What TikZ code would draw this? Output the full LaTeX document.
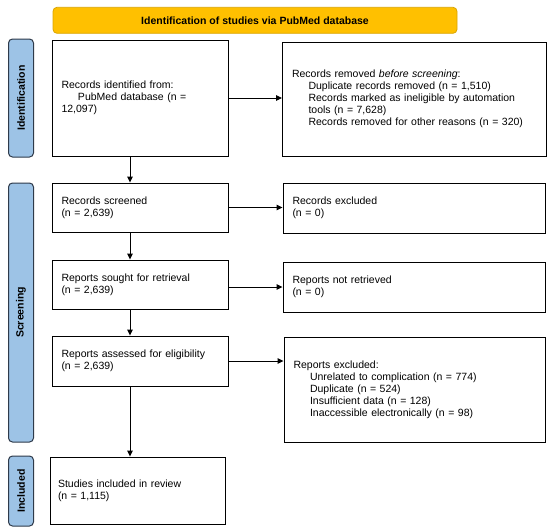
\documentclass[tikz,border=0pt]{standalone}
\usepackage{fontspec}
\setmainfont{Liberation Sans}
\usepackage{tikz}
\usetikzlibrary{arrows.meta, positioning, calc}
\definecolor{phaseblue}{HTML}{9DC3E6}
\definecolor{phaseedge}{HTML}{2E3A4A}
\definecolor{headgold}{HTML}{FFC000}
\definecolor{headedge}{HTML}{D9A400}
\newcommand{\ind}{\hspace*{16.5pt}}

\begin{document}
\begin{tikzpicture}[
    x=1pt, y=-1pt,
    record/.style={rectangle, draw, line width=0.9pt, inner xsep=9.5pt, inner ysep=0pt, align=left, font=\fontsize{10.5}{11.9}\selectfont},
    phase/.style={rectangle, rounded corners=4pt, draw=phaseedge, line width=1pt, fill=phaseblue, minimum height=25pt, inner sep=0pt, font=\fontsize{10.5}{12}\selectfont\bfseries},
    header/.style={rectangle, rounded corners=4pt, draw=headedge, line width=0.8pt, fill=headgold, minimum width=404pt, minimum height=26pt, font=\fontsize{10.5}{12}\selectfont\bfseries},
    arr/.style={-{Triangle[length=6pt, width=5.5pt]}, line width=0.9pt}
]
\useasboundingbox (0,0) rectangle (550,531);

% Header
\node[header] (head) at (255, 20.3) {Identification of studies via PubMed database};

% Phase labels
\node[phase, rotate=90, minimum width=118pt] (pid) at (21, 98) {Identification};
\node[phase, rotate=90, minimum width=259pt] (pscr) at (21, 312.5) {Screening};
\node[phase, rotate=90, minimum width=70pt] (pinc) at (21, 491) {Included};

% Identification
\node[record, text width=157pt, minimum height=116pt] (ident) at (140, 98)
    {Records identified from:\\ \ind PubMed database (n =\\ 12,097)};
\node[record, text width=245pt, minimum height=114pt] (removed) at (414.5, 99)
    {Records removed \textit{before screening}:\\
     \ind Duplicate records removed (n = 1,510)\\
     \ind Records marked as ineligible by automation\\
     \ind tools (n = 7,628)\\
     \ind Records removed for other reasons (n = 320)};

% Screening
\node[record, text width=157pt, minimum height=49pt] (screened) at (140, 207.5)
    {Records screened\\ (n = 2,639)};
\node[record, text width=243pt, minimum height=50pt] (excl) at (414, 208)
    {Records excluded\\ (n = 0)};
\node[record, text width=157pt, minimum height=49pt] (sought) at (140, 284.5)
    {Reports sought for retrieval\\ (n = 2,639)};
\node[record, text width=243pt, minimum height=50pt] (notret) at (414, 287)
    {Reports not retrieved\\ (n = 0)};
\node[record, text width=157pt, minimum height=50pt] (assessed) at (140, 361)
    {Reports assessed for eligibility\\ (n = 2,639)};
\node[record, text width=242pt, minimum height=105pt] (repexcl) at (414.5, 389.5)
    {Reports excluded:\\
     \ind Unrelated to complication (n = 774)\\
     \ind Duplicate (n = 524)\\
     \ind Insufficient data (n = 128)\\
     \ind Inaccessible electronically (n = 98)};

% Included
\node[record, inner xsep=7.5pt, text width=160pt, minimum height=67pt] (incl) at (138, 490.5)
    {Studies included in review\\ (n = 1,115)};

% Arrows
\draw[arr] (ident.east) -- (ident.east -| removed.west);
\draw[arr] ([xshift=-10pt]ident.south) -- ([xshift=-10pt]ident.south |- screened.north);
\draw[arr] (screened.east) -- (screened.east -| excl.west);
\draw[arr] ([xshift=-10pt]screened.south) -- ([xshift=-10pt]screened.south |- sought.north);
\draw[arr] (sought.east |- notret.west) -- (notret.west);
\draw[arr] ([xshift=-10pt]sought.south) -- ([xshift=-10pt]sought.south |- assessed.north);
\draw[arr] (assessed.east) -- (assessed.east -| repexcl.west);
\draw[arr] ([xshift=-10pt]assessed.south) -- ([xshift=-10pt]assessed.south |- incl.north);
\end{tikzpicture}
\end{document}
